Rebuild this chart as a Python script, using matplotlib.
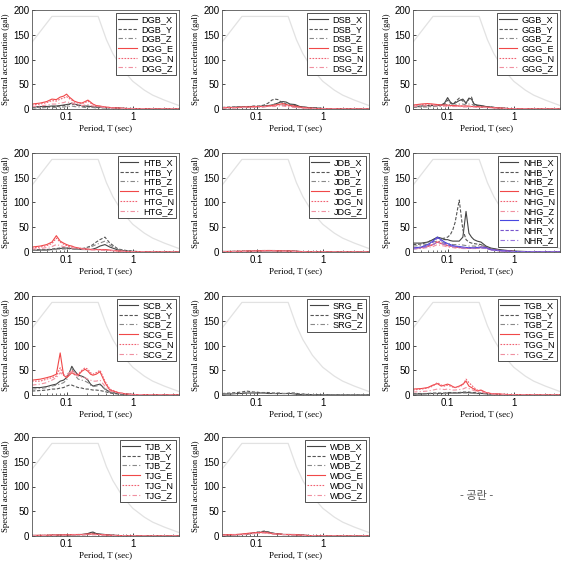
import numpy as np
import matplotlib.pyplot as plt

# 주기 (sec)
periods = [0.03, 0.04, 0.05, 0.06, 0.07, 0.08, 0.09, 0.1, 0.11, 0.12, 0.13, 0.15, 0.17, 0.19,
           0.21, 0.23, 0.25, 0.28, 0.32, 0.38, 0.45, 0.6, 0.8, 1.0, 1.5, 2.0, 3.0, 5.0]

# 설계 응답스펙트럼
design_T = [0.03, 0.06, 0.3, 0.4, 0.5, 0.7, 1.0, 1.5, 2.0, 3.0, 5.0]
design_sa = [135, 187, 187, 140, 112, 80, 56, 38, 28, 18, 7]

DGB_X = [4, 5, 5, 6, 6, 7, 8, 9, 10, 12, 10, 8, 7, 6, 6, 5, 5, 4, 4, 3, 3, 2, 1, 1, 0.5, 0.3, 0.2, 0.1]
DGB_Y = [3, 4, 4, 5, 5, 6, 7, 8, 9, 10, 9, 7, 6, 5, 5, 4, 4, 3, 3, 3, 2, 1.5, 1, 0.5, 0.3, 0.2, 0.1, 0.1]
DGB_Z = [2, 2, 3, 3, 3, 4, 4, 5, 5, 6, 5, 4, 4, 3, 3, 3, 3, 2, 2, 2, 1, 1, 0.5, 0.3, 0.2, 0.1, 0.1, 0.1]
DGG_E = [10, 12, 15, 20, 19, 24, 26, 30, 24, 20, 16, 13, 12, 15, 18, 14, 10, 7, 6, 4, 3, 2, 1, 0.5, 0.3, 0.2, 0.1, 0.1]
DGG_N = [8, 10, 13, 17, 16, 20, 22, 25, 21, 18, 14, 12, 11, 13, 16, 12, 9, 6, 5, 4, 3, 2, 1, 0.5, 0.3, 0.2, 0.1, 0.1]
DGG_Z = [5, 6, 8, 10, 10, 12, 13, 15, 13, 12, 10, 8, 7, 8, 9, 7, 6, 5, 4, 3, 2, 1.5, 1, 0.5, 0.3, 0.2, 0.1, 0.1]

DSB_X = [3, 3, 4, 4, 4, 5, 5, 5, 5, 6, 6, 7, 8, 10, 12, 14, 15, 14, 10, 9, 5, 3, 2, 1, 0.5, 0.3, 0.2, 0.1]
DSB_Y = [3, 4, 4, 4, 5, 5, 6, 6, 6, 7, 8, 12, 18, 20, 19, 15, 13, 10, 8, 7, 4, 3, 2, 1, 0.5, 0.3, 0.2, 0.1]
DSB_Z = [2, 2, 3, 3, 3, 3, 4, 4, 4, 4, 5, 6, 8, 10, 10, 9, 8, 7, 6, 5, 3, 2, 1, 0.5, 0.3, 0.2, 0.1, 0.1]
DSG_E = [3, 3, 3, 4, 4, 4, 5, 5, 5, 5, 5, 6, 7, 8, 9, 10, 11, 9, 7, 6, 4, 2, 1, 0.5, 0.3, 0.2, 0.1, 0.1]
DSG_N = [2, 3, 3, 3, 4, 4, 4, 5, 5, 5, 5, 6, 6, 7, 8, 8, 8, 7, 6, 5, 3, 2, 1, 0.5, 0.3, 0.2, 0.1, 0.1]
DSG_Z = [2, 2, 2, 3, 3, 3, 3, 4, 4, 4, 4, 5, 5, 5, 6, 6, 6, 5, 4, 3, 2, 1, 0.5, 0.3, 0.2, 0.1, 0.1, 0.1]

GGB_X = [5, 6, 7, 7, 8, 8, 12, 23, 14, 10, 12, 17, 20, 12, 22, 20, 10, 8, 7, 5, 4, 2, 1, 0.5, 0.3, 0.2, 0.1, 0.1]
GGB_Y = [4, 5, 6, 6, 7, 7, 10, 18, 12, 9, 14, 22, 16, 11, 20, 24, 10, 7, 6, 5, 4, 2, 1, 0.5, 0.3, 0.2, 0.1, 0.1]
GGB_Z = [3, 4, 4, 5, 5, 5, 7, 10, 8, 7, 8, 10, 10, 8, 10, 10, 7, 5, 4, 4, 3, 2, 1, 0.5, 0.3, 0.2, 0.1, 0.1]
GGG_E = [8, 10, 11, 10, 9, 8, 8, 8, 7, 7, 7, 6, 6, 6, 6, 5, 5, 5, 4, 4, 3, 2, 1, 0.5, 0.3, 0.2, 0.1, 0.1]
GGG_N = [7, 9, 10, 9, 8, 8, 7, 7, 7, 6, 6, 6, 6, 5, 5, 5, 5, 4, 4, 3, 3, 2, 1, 0.5, 0.3, 0.2, 0.1, 0.1]
GGG_Z = [5, 6, 7, 7, 6, 6, 6, 5, 5, 5, 5, 5, 4, 4, 4, 4, 4, 3, 3, 3, 2, 1, 0.5, 0.3, 0.2, 0.1, 0.1, 0.1]

HTB_X = [3, 4, 4, 5, 6, 7, 8, 8, 7, 7, 6, 6, 5, 5, 5, 5, 6, 8, 12, 15, 10, 4, 2, 1, 0.5, 0.3, 0.2, 0.1]
HTB_Y = [4, 5, 5, 6, 7, 8, 8, 8, 8, 7, 7, 7, 7, 8, 10, 12, 15, 20, 25, 30, 18, 6, 3, 1.5, 0.5, 0.3, 0.2, 0.1]
HTB_Z = [3, 4, 4, 5, 5, 6, 6, 6, 6, 6, 6, 6, 6, 7, 8, 10, 12, 15, 18, 22, 14, 5, 2, 1, 0.5, 0.3, 0.2, 0.1]
HTG_E = [10, 12, 15, 20, 33, 22, 18, 15, 13, 12, 10, 8, 7, 6, 6, 5, 5, 5, 5, 5, 4, 2, 1, 0.5, 0.3, 0.2, 0.1, 0.1]
HTG_N = [8, 10, 13, 17, 28, 20, 16, 13, 11, 10, 9, 8, 7, 6, 5, 5, 5, 5, 4, 4, 3, 2, 1, 0.5, 0.3, 0.2, 0.1, 0.1]
HTG_Z = [6, 7, 9, 11, 15, 13, 11, 10, 9, 8, 8, 7, 6, 5, 5, 4, 4, 4, 4, 3, 3, 2, 1, 0.5, 0.3, 0.2, 0.1, 0.1]

JDB_X = [1, 1, 1, 1, 1, 1.5, 1.5, 2, 2, 2, 2, 2.5, 2.5, 2.5, 2, 2, 2, 2, 1.5, 1.5, 1, 0.5, 0.3, 0.2, 0.1, 0.1, 0.1, 0.1]
JDB_Y = [1, 1, 1.5, 1.5, 2, 2, 2, 2.5, 2.5, 3, 3, 3, 3, 3, 2.5, 2.5, 2, 2, 2, 1.5, 1, 0.5, 0.3, 0.2, 0.1, 0.1, 0.1, 0.1]
JDB_Z = [0.5, 1, 1, 1, 1, 1, 1.5, 1.5, 1.5, 2, 2, 2, 2, 2, 2, 1.5, 1.5, 1.5, 1, 1, 0.5, 0.3, 0.2, 0.1, 0.1, 0.1, 0.1, 0.1]
JDG_E = [1, 1, 1.5, 1.5, 2, 2, 2, 2.5, 2.5, 2.5, 3, 3, 3, 2.5, 2.5, 2.5, 2, 2, 2, 1.5, 1, 0.5, 0.3, 0.2, 0.1, 0.1, 0.1, 0.1]
JDG_N = [1, 1, 1, 1.5, 1.5, 2, 2, 2, 2, 2.5, 2.5, 2.5, 2.5, 2.5, 2, 2, 2, 2, 1.5, 1.5, 1, 0.5, 0.3, 0.2, 0.1, 0.1, 0.1, 0.1]
JDG_Z = [0.5, 1, 1, 1, 1, 1.5, 1.5, 1.5, 1.5, 1.5, 2, 2, 2, 2, 1.5, 1.5, 1.5, 1.5, 1, 1, 0.5, 0.3, 0.2, 0.1, 0.1, 0.1, 0.1, 0.1]

NHB_X = [18, 18, 20, 25, 30, 28, 25, 25, 23, 22, 22, 22, 30, 82, 38, 30, 25, 22, 20, 12, 8, 5, 3, 2, 1, 0.5, 0.3, 0.1]
NHB_Y = [15, 16, 20, 25, 28, 27, 28, 30, 35, 45, 60, 105, 45, 25, 20, 18, 17, 16, 15, 10, 7, 4, 2, 1, 0.5, 0.3, 0.2, 0.1]
NHB_Z = [12, 13, 16, 20, 22, 20, 18, 17, 16, 15, 15, 15, 14, 13, 12, 12, 12, 11, 15, 10, 6, 3, 2, 1, 0.5, 0.3, 0.2, 0.1]
NHG_E = [8, 9, 12, 15, 20, 17, 15, 13, 12, 11, 10, 9, 8, 8, 8, 8, 8, 8, 10, 9, 5, 3, 2, 1, 0.5, 0.3, 0.2, 0.1]
NHG_N = [7, 8, 11, 14, 22, 18, 15, 13, 12, 11, 10, 9, 9, 8, 8, 8, 8, 8, 9, 8, 5, 3, 2, 1, 0.5, 0.3, 0.2, 0.1]
NHG_Z = [6, 7, 9, 11, 15, 13, 12, 10, 9, 9, 8, 8, 7, 7, 7, 7, 7, 7, 8, 7, 4, 2, 1, 0.5, 0.3, 0.2, 0.1, 0.1]
NHR_X = [8, 10, 15, 22, 30, 25, 20, 17, 15, 13, 12, 11, 10, 9, 9, 9, 9, 9, 10, 9, 5, 3, 2, 1, 0.5, 0.3, 0.2, 0.1]
NHR_Y = [7, 9, 13, 20, 28, 23, 18, 15, 13, 12, 11, 10, 9, 9, 8, 8, 8, 8, 9, 8, 5, 3, 2, 1, 0.5, 0.3, 0.2, 0.1]
NHR_Z = [6, 8, 11, 15, 20, 18, 15, 13, 12, 11, 10, 9, 8, 8, 8, 8, 8, 7, 8, 7, 4, 2, 1, 0.5, 0.3, 0.2, 0.1, 0.1]

SCB_X = [15, 15, 17, 20, 22, 28, 30, 35, 45, 58, 50, 40, 38, 35, 30, 22, 18, 20, 22, 12, 6, 3, 2, 1, 0.5, 0.3, 0.2, 0.1]
SCB_Y = [8, 9, 10, 12, 12, 14, 15, 18, 20, 20, 18, 15, 14, 12, 12, 11, 10, 10, 9, 7, 4, 2, 1, 0.5, 0.3, 0.2, 0.1, 0.1]
SCB_Z = [12, 13, 15, 18, 20, 22, 25, 30, 45, 55, 42, 32, 30, 28, 25, 20, 17, 18, 20, 12, 6, 3, 2, 1, 0.5, 0.3, 0.2, 0.1]
SCG_E = [30, 32, 35, 38, 42, 85, 40, 35, 40, 45, 42, 40, 48, 52, 48, 42, 40, 42, 47, 25, 10, 5, 2, 1, 0.5, 0.3, 0.2, 0.1]
SCG_N = [28, 28, 32, 35, 38, 55, 40, 38, 42, 50, 45, 42, 50, 55, 52, 45, 42, 45, 50, 28, 12, 5, 2, 1, 0.5, 0.3, 0.2, 0.1]
SCG_Z = [20, 22, 25, 30, 35, 45, 40, 42, 45, 48, 42, 38, 36, 35, 32, 30, 28, 28, 30, 18, 8, 4, 2, 1, 0.5, 0.3, 0.2, 0.1]

SRG_E = [2, 2, 3, 3, 4, 4, 4, 4, 4, 4, 4, 3, 3, 3, 3, 3, 3, 3, 3, 2, 1, 1, 0.5, 0.3, 0.2, 0.1, 0.1, 0.1]
SRG_N = [3, 4, 5, 6, 8, 7, 6, 6, 5, 5, 5, 5, 4, 4, 4, 4, 3, 3, 4, 4, 2, 1, 0.5, 0.3, 0.2, 0.1, 0.1, 0.1]
SRG_Z = [2, 3, 3, 4, 5, 5, 5, 5, 4, 4, 4, 4, 4, 3, 3, 3, 3, 3, 4, 3, 2, 1, 0.5, 0.3, 0.2, 0.1, 0.1, 0.1]

TGB_X = [2, 2, 3, 3, 3, 3, 3, 4, 4, 4, 4, 4, 5, 5, 5, 4, 4, 3, 3, 3, 2, 1, 0.5, 0.3, 0.2, 0.1, 0.1, 0.1]
TGB_Y = [3, 3, 3, 4, 4, 4, 4, 5, 5, 5, 5, 5, 6, 6, 6, 5, 5, 4, 4, 3, 2, 1, 0.5, 0.3, 0.2, 0.1, 0.1, 0.1]
TGB_Z = [2, 2, 2, 3, 3, 3, 3, 3, 3, 4, 4, 4, 4, 4, 4, 4, 3, 3, 3, 2, 2, 1, 0.5, 0.3, 0.2, 0.1, 0.1, 0.1]
TGG_E = [12, 13, 15, 20, 23, 18, 20, 22, 20, 17, 15, 18, 22, 28, 18, 15, 12, 8, 10, 5, 3, 2, 1, 0.5, 0.3, 0.2, 0.1, 0.1]
TGG_N = [10, 12, 14, 18, 25, 20, 18, 20, 18, 16, 15, 17, 20, 32, 25, 20, 15, 10, 9, 5, 3, 2, 1, 0.5, 0.3, 0.2, 0.1, 0.1]
TGG_Z = [6, 7, 8, 10, 12, 12, 11, 12, 11, 10, 10, 11, 12, 15, 13, 11, 9, 7, 6, 4, 2, 1, 0.5, 0.3, 0.2, 0.1, 0.1, 0.1]

TJB_X = [1, 1, 1, 1.5, 1.5, 2, 2, 2, 2, 2.5, 2.5, 3, 3, 4, 5, 7, 8, 5, 4, 3, 2, 1, 0.5, 0.3, 0.2, 0.1, 0.1, 0.1]
TJB_Y = [1, 1, 1, 1.5, 1.5, 2, 2, 2, 2, 2, 2, 2.5, 3, 3, 4, 5, 6, 4, 3, 2, 1.5, 1, 0.5, 0.3, 0.2, 0.1, 0.1, 0.1]
TJB_Z = [1, 1, 1, 1, 1, 1.5, 1.5, 1.5, 1.5, 2, 2, 2, 2, 2.5, 3, 3, 3, 3, 2, 2, 1, 0.5, 0.3, 0.2, 0.1, 0.1, 0.1, 0.1]
TJG_E = [1, 1.5, 1.5, 2, 2, 2, 2.5, 2.5, 2.5, 3, 3, 3, 3, 3.5, 4, 4, 4, 3.5, 3, 2.5, 1.5, 1, 0.5, 0.3, 0.2, 0.1, 0.1, 0.1]
TJG_N = [1, 1, 1.5, 1.5, 2, 2, 2, 2, 2.5, 2.5, 2.5, 3, 3, 3, 3.5, 3.5, 3.5, 3, 3, 2, 1.5, 1, 0.5, 0.3, 0.2, 0.1, 0.1, 0.1]
TJG_Z = [1, 1, 1, 1, 1.5, 1.5, 1.5, 1.5, 2, 2, 2, 2, 2, 2.5, 2.5, 2.5, 2.5, 2.5, 2, 1.5, 1, 0.5, 0.3, 0.2, 0.1, 0.1, 0.1, 0.1]

WDB_X = [2, 2, 3, 3, 4, 5, 6, 7, 7, 8, 9, 8, 6, 5, 4, 4, 3, 3, 3, 3, 2, 1, 0.5, 0.3, 0.2, 0.1, 0.1, 0.1]
WDB_Y = [2, 2, 3, 3, 4, 5, 6, 8, 8, 9, 10, 8, 6, 5, 4, 4, 3, 3, 3, 2, 2, 1, 0.5, 0.3, 0.2, 0.1, 0.1, 0.1]
WDB_Z = [1, 2, 2, 3, 3, 4, 5, 6, 6, 7, 7, 6, 5, 4, 3, 3, 3, 3, 2, 2, 1, 1, 0.5, 0.3, 0.2, 0.1, 0.1, 0.1]
WDG_E = [2, 3, 3, 4, 5, 6, 6, 7, 7, 7, 7, 6, 5, 4, 4, 4, 3, 3, 3, 3, 2, 1, 0.5, 0.3, 0.2, 0.1, 0.1, 0.1]
WDG_N = [2, 2, 3, 3, 4, 5, 6, 7, 7, 8, 8, 7, 5, 4, 4, 4, 3, 3, 3, 2, 2, 1, 0.5, 0.3, 0.2, 0.1, 0.1, 0.1]
WDG_Z = [1, 2, 2, 3, 3, 4, 5, 5, 5, 6, 6, 5, 4, 4, 3, 3, 3, 3, 2, 2, 1, 1, 0.5, 0.3, 0.2, 0.1, 0.1, 0.1]

# 패널 구성 (이름, 값)
panels = [
    [('DGB_X', DGB_X), ('DGB_Y', DGB_Y), ('DGB_Z', DGB_Z), ('DGG_E', DGG_E), ('DGG_N', DGG_N), ('DGG_Z', DGG_Z)],
    [('DSB_X', DSB_X), ('DSB_Y', DSB_Y), ('DSB_Z', DSB_Z), ('DSG_E', DSG_E), ('DSG_N', DSG_N), ('DSG_Z', DSG_Z)],
    [('GGB_X', GGB_X), ('GGB_Y', GGB_Y), ('GGB_Z', GGB_Z), ('GGG_E', GGG_E), ('GGG_N', GGG_N), ('GGG_Z', GGG_Z)],
    [('HTB_X', HTB_X), ('HTB_Y', HTB_Y), ('HTB_Z', HTB_Z), ('HTG_E', HTG_E), ('HTG_N', HTG_N), ('HTG_Z', HTG_Z)],
    [('JDB_X', JDB_X), ('JDB_Y', JDB_Y), ('JDB_Z', JDB_Z), ('JDG_E', JDG_E), ('JDG_N', JDG_N), ('JDG_Z', JDG_Z)],
    [('NHB_X', NHB_X), ('NHB_Y', NHB_Y), ('NHB_Z', NHB_Z), ('NHG_E', NHG_E), ('NHG_N', NHG_N), ('NHG_Z', NHG_Z),
     ('NHR_X', NHR_X), ('NHR_Y', NHR_Y), ('NHR_Z', NHR_Z)],
    [('SCB_X', SCB_X), ('SCB_Y', SCB_Y), ('SCB_Z', SCB_Z), ('SCG_E', SCG_E), ('SCG_N', SCG_N), ('SCG_Z', SCG_Z)],
    [('SRG_E', SRG_E), ('SRG_N', SRG_N), ('SRG_Z', SRG_Z)],
    [('TGB_X', TGB_X), ('TGB_Y', TGB_Y), ('TGB_Z', TGB_Z), ('TGG_E', TGG_E), ('TGG_N', TGG_N), ('TGG_Z', TGG_Z)],
    [('TJB_X', TJB_X), ('TJB_Y', TJB_Y), ('TJB_Z', TJB_Z), ('TJG_E', TJG_E), ('TJG_N', TJG_N), ('TJG_Z', TJG_Z)],
    [('WDB_X', WDB_X), ('WDB_Y', WDB_Y), ('WDB_Z', WDB_Z), ('WDG_E', WDG_E), ('WDG_N', WDG_N), ('WDG_Z', WDG_Z)],
]

# 선 스타일: 순서대로
grey_styles = [('#444444', '-'), ('#555555', (0, (3, 1.5))), ('#888888', (0, (4, 2, 1, 2)))]
red_styles = [('#f04848', '-'), ('#f06070', (0, (1.5, 1.2))), ('#f090a0', (0, (4, 2, 1, 2)))]
blue_styles = [('#4848e0', '-'), ('#7755cc', (0, (3, 1.5))), ('#9977dd', (0, (4, 2, 1, 2)))]

W, H = 575, 565
fig = plt.figure(figsize=(W / 100, H / 100), dpi=100)

col_left = [32, 222, 413]
row_top = [10, 153, 296, 437]
aw, ah = 147, 99

for i, series in enumerate(panels):
    r, c = divmod(i, 3)
    ax = fig.add_axes([col_left[c] / W, 1 - (row_top[r] + ah) / H, aw / W, ah / H])
    ax.plot(design_T, design_sa, color='#e2e2e2', lw=0.9, zorder=1)

    if len(series) == 3:
        styles = grey_styles
    else:
        styles = grey_styles + red_styles + blue_styles
    for (name, vals), (col, ls) in zip(series, styles):
        ax.plot(periods, vals, color=col, ls=ls, lw=0.8, label=name, zorder=2)

    ax.set_xscale('log')
    ax.set_xlim(0.03, 5)
    ax.set_ylim(0, 200)
    ax.set_yticks([0, 50, 100, 150, 200])
    ax.set_xticks([0.1, 1])
    ax.set_xticklabels(['0.1', '1'])
    ax.tick_params(labelsize=7, length=2, width=0.5, direction='in', pad=2)
    ax.tick_params(which='minor', length=1.2, width=0.4, direction='in')
    for lab in ax.get_xticklabels() + ax.get_yticklabels():
        lab.set_family('Liberation Sans')
    for sp in ax.spines.values():
        sp.set_linewidth(0.6)
        sp.set_color('#555555')
    ax.set_xlabel('Period, T (sec)', family='Liberation Serif', fontsize=6.5, labelpad=2)
    ax.set_ylabel('Spectral acceleration (gal)', family='Liberation Serif', fontsize=6.2, labelpad=2)

    leg = ax.legend(loc='upper right', prop={'family': 'Liberation Sans', 'size': 6.6},
                    frameon=True, fancybox=False, edgecolor='#333333', framealpha=1,
                    handlelength=2.0, handletextpad=0.5, labelspacing=0.08, borderpad=0.25,
                    borderaxespad=0.3)
    leg.get_frame().set_linewidth(0.6)

fig.text(477 / W, 1 - 496 / H, '- 공란 -', ha='center', va='center', fontsize=8,
         color='#555555', family=['Noto Sans CJK KR', 'DejaVu Sans'])

fig.savefig('out.png', dpi=100)
